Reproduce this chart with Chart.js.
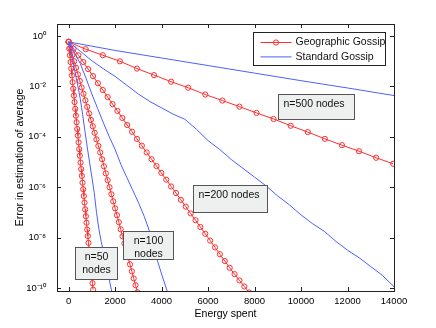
<!DOCTYPE html>
<html lang="en">
<head>
<meta charset="UTF-8">
<title>Geographic vs Standard Gossip</title>
<script src="https://cdn.jsdelivr.net/npm/chart.js"></script>
<style>
  html, body { margin: 0; padding: 0; background: #fff; }
  #wrap { width: 436px; height: 328px; }
</style>
</head>
<body>
<div id="wrap"><canvas id="graf" width="436" height="328"></canvas></div>
<script>
// axis ticks
const xTicks = [0, 2000, 4000, 6000, 8000, 10000, 12000, 14000];
const yTickExps = [0, -2, -4, -6, -8, -10];

const seriesNames = ['Geographic Gossip', 'Standard Gossip'];
const boxTexts = [['n=50', 'nodes'], ['n=100', 'nodes'], ['n=200 nodes'], ['n=500 nodes']];

const geoE50 = [0, 28, 57, 85, 114, 142, 171, 199, 228, 256, 285, 313, 342, 370, 399, 427, 456, 484, 513, 541,
  570, 598, 627, 655, 684, 712, 741, 769, 798, 826, 855, 883, 912, 940, 969, 997, 1026, 1054];
const geoL50 = [-0.23, -0.50, -0.76, -1.03, -1.29, -1.56, -1.83, -2.09, -2.36, -2.62, -2.89, -3.16, -3.42, -3.69,
  -3.95, -4.22, -4.49, -4.75, -5.02, -5.28, -5.55, -5.82, -6.08, -6.35, -6.61, -6.88, -7.15, -7.41, -7.68, -7.94,
  -8.21, -8.48, -8.74, -9.01, -9.27, -9.54, -9.81, -10.07];

const geoE100 = [0, 80, 160, 240, 320, 400, 480, 560, 640, 720, 800, 880, 960, 1040, 1120, 1200, 1280, 1360, 1440,
  1520, 1600, 1680, 1760, 1840, 1920, 2000, 2080, 2160, 2240, 2320, 2400, 2480, 2560, 2640, 2720, 2800, 2880, 2960];
const geoL100 = [-0.23, -0.49, -0.75, -1.00, -1.26, -1.52, -1.78, -2.04, -2.29, -2.55, -2.81, -3.07, -3.33, -3.58,
  -3.84, -4.10, -4.36, -4.62, -4.89, -5.17, -5.45, -5.72, -6.00, -6.28, -6.56, -6.84, -7.11, -7.39, -7.67, -7.95,
  -8.23, -8.50, -8.78, -9.06, -9.34, -9.62, -9.89, -10.17];

const geoE200 = [0, 210, 420, 630, 840, 1050, 1260, 1470, 1680, 1890, 2100, 2310, 2520, 2730, 2940, 3150, 3360,
  3570, 3780, 3990, 4200, 4410, 4620, 4830, 5040, 5250, 5460, 5670, 5880, 6090, 6300, 6510, 6720, 6930, 7140,
  7350, 7560, 7770];
const geoL200 = [-0.23, -0.50, -0.76, -1.03, -1.31, -1.59, -1.87, -2.14, -2.42, -2.70, -2.97, -3.25, -3.53, -3.80,
  -4.08, -4.35, -4.62, -4.89, -5.16, -5.43, -5.70, -5.97, -6.23, -6.50, -6.77, -7.04, -7.31, -7.58, -7.85, -8.12,
  -8.39, -8.66, -8.93, -9.20, -9.45, -9.70, -9.94, -10.18];

const geoE500 = [0, 735, 1470, 2205, 2940, 3675, 4410, 5145, 5880, 6615, 7350, 8085, 8820, 9555, 10290, 11025,
  11760, 12495, 13230, 13965];
const geoL500 = [-0.23, -0.52, -0.76, -1.00, -1.29, -1.55, -1.81, -2.05, -2.32, -2.56, -2.80, -3.05, -3.29, -3.56,
  -3.81, -4.08, -4.33, -4.57, -4.83, -5.07];

// standard gossip
const stdE50 = [0, 100, 200, 300, 400, 500, 600, 700, 800, 900, 1000, 1100, 1200, 1300, 1400, 1500, 1600, 1700, 1850];
const stdL50 = [-0.23, -0.66, -1.09, -1.55, -2.00, -2.48, -3.10, -3.76, -4.40, -5.00, -5.60, -6.20, -7.00, -7.65,
  -8.15, -8.55, -9.00, -9.45, -10.12];

const stdE100 = [0, 250, 500, 750, 1000, 1250, 1500, 1750, 2000, 2250, 2500, 2750, 3000, 3250, 3500, 3750, 4000, 4250];
const stdL100 = [-0.23, -0.65, -1.09, -1.68, -2.30, -2.88, -3.45, -4.00, -4.50, -5.10, -5.60, -6.10, -6.60, -7.15,
  -7.80, -8.70, -9.45, -10.15];

const stdE200 = [0, 500, 1000, 1500, 2000, 2500, 3000, 3500, 4000, 4500, 5000, 5500, 6000, 6500, 7000, 7500, 8000,
  8500, 9000, 9500, 10000, 10500, 11000, 11500, 12000, 12500, 13000, 13500, 14000];
const stdL200 = [-0.23, -0.60, -0.98, -1.30, -1.60, -1.95, -2.30, -2.60, -2.85, -3.10, -3.30, -3.70, -4.15, -4.50,
  -4.90, -5.25, -5.60, -5.95, -6.35, -6.70, -7.10, -7.45, -7.75, -8.15, -8.50, -8.80, -9.15, -9.50, -9.95];

const stdE500 = [0, 2000, 4000, 6000, 8000, 10000, 12000, 14000];
const stdL500 = [-0.23, -0.57, -0.87, -1.17, -1.47, -1.77, -2.06, -2.36];

const RED = 'rgb(255,45,45)';
const BLUE = 'rgb(75,95,255)';
const FONT = '"Liberation Sans", Arial, Helvetica, sans-serif';

function pts(es, ls) {
  return es.map((e, i) => ({ x: e, y: Math.pow(10, ls[i]) }));
}

function geo(es, ls) {
  return {
    label: seriesNames[0], data: pts(es, ls),
    borderColor: RED, borderWidth: 1, pointStyle: 'circle', pointRadius: 2.6,
    pointBorderColor: RED, pointBackgroundColor: 'rgba(0,0,0,0)', pointBorderWidth: 1
  };
}
function std(es, ls) {
  return { label: seriesNames[1], data: pts(es, ls), borderColor: BLUE, borderWidth: 1, pointRadius: 0 };
}

const sup = { '0': '\u2070', '1': '\u00b9', '2': '\u00b2', '4': '\u2074', '6': '\u2076', '8': '\u2078', '-': '\u207b' };

// frame, inward ticks, text boxes and legend, MATLAB style
const framePlugin = {
  id: 'frame',
  afterDraw(chart) {
    const { ctx, chartArea: a, scales: { x, y } } = chart;
    ctx.save();
    ctx.strokeStyle = '#222';
    ctx.lineWidth = 1;
    ctx.beginPath();
    xTicks.forEach(v => {
      const px = Math.round(x.getPixelForValue(v)) + 0.5;
      ctx.moveTo(px, a.bottom); ctx.lineTo(px, a.bottom - 4);
      ctx.moveTo(px, a.top); ctx.lineTo(px, a.top + 4);
    });
    yTickExps.forEach(e => {
      const py = Math.round(y.getPixelForValue(Math.pow(10, e))) + 0.5;
      ctx.moveTo(a.left, py); ctx.lineTo(a.left + 4, py);
      ctx.moveTo(a.right, py); ctx.lineTo(a.right - 4, py);
    });
    ctx.stroke();
    ctx.strokeRect(Math.round(a.left) + 0.5, Math.round(a.top) + 0.5,
      Math.round(a.right - a.left), Math.round(a.bottom - a.top));

    // node count boxes, corners in data coords
    const corners = [[280, 2080, -8.37, -9.64], [2330, 4500, -7.73, -8.86], [5370, 8550, -5.91, -6.98], [9000, 12280, -2.31, -3.29]];
    ctx.font = '10.5px ' + FONT;
    ctx.textBaseline = 'middle';
    boxTexts.forEach((lines, i) => {
      const c = corners[i];
      const x0 = Math.round(x.getPixelForValue(c[0])) + 0.5;
      const x1 = Math.round(x.getPixelForValue(c[1])) + 0.5;
      const y0 = Math.round(y.getPixelForValue(Math.pow(10, c[2]))) + 0.5;
      const y1 = Math.round(y.getPixelForValue(Math.pow(10, c[3]))) + 0.5;
      ctx.fillStyle = '#eef0f0';
      ctx.fillRect(x0, y0, x1 - x0, y1 - y0);
      ctx.strokeStyle = '#555';
      ctx.strokeRect(x0, y0, x1 - x0, y1 - y0);
      ctx.fillStyle = '#111';
      if (lines.length === 1) {
        ctx.textAlign = 'left';
        ctx.fillText(lines[0], x0 + 5, y0 + 10);
      } else {
        ctx.textAlign = 'center';
        lines.forEach((t, k) => ctx.fillText(t, (x0 + x1) / 2, y0 + 10 + k * 12.5));
      }
    });

    // legend
    const lx = Math.round(a.right - 141) + 0.5, ly = Math.round(a.top + 8) + 0.5;
    ctx.fillStyle = '#fff';
    ctx.fillRect(lx, ly, 132, 33);
    ctx.strokeStyle = '#222';
    ctx.strokeRect(lx, ly, 132, 33);
    const rows = [[RED, true], [BLUE, false]];
    rows.forEach((r, k) => {
      const ry = ly + 10 + k * 14.4;
      ctx.strokeStyle = r[0];
      ctx.beginPath(); ctx.moveTo(lx + 7, ry); ctx.lineTo(lx + 38, ry); ctx.stroke();
      if (r[1]) { ctx.beginPath(); ctx.arc(lx + 22.5, ry, 2.6, 0, Math.PI * 2); ctx.stroke(); }
      ctx.fillStyle = '#111';
      ctx.textAlign = 'left';
      ctx.fillText(seriesNames[k], lx + 42, ry);
    });
    ctx.restore();
  }
};

new Chart(document.getElementById('graf'), {
  type: 'line',
  data: {
    datasets: [
      std(stdE50, stdL50), std(stdE100, stdL100), std(stdE200, stdL200), std(stdE500, stdL500),
      geo(geoE50, geoL50), geo(geoE100, geoL100), geo(geoE200, geoL200), geo(geoE500, geoL500)
    ]
  },
  options: {
    responsive: false,
    animation: false,
    devicePixelRatio: 1,
    layout: { padding: { top: 24, right: 42, left: 0, bottom: 0 } },
    plugins: { legend: { display: false }, tooltip: { enabled: false } },
    elements: { line: { tension: 0 } },
    scales: {
      x: {
        type: 'linear', min: -500, max: 14000,
        afterBuildTicks: s => { s.ticks = xTicks.map(v => ({ value: v })); },
        afterFit: s => { s.height = 37; },
        grid: { display: false, drawTicks: false },
        border: { display: false },
        ticks: {
          color: '#000', font: { size: 9.5, family: FONT }, padding: 5, maxRotation: 0, autoSkip: false,
          callback: v => String(v)
        },
        title: { display: true, text: 'Energy spent', color: '#000', font: { size: 10.5, family: FONT }, padding: { top: 0, bottom: 8 } }
      },
      y: {
        type: 'logarithmic', min: Math.pow(10, -10.12), max: Math.pow(10, 0.48),
        afterBuildTicks: s => { s.ticks = yTickExps.map(e => ({ value: Math.pow(10, e) })); },
        afterFit: s => { s.width = 57; },
        grid: { display: false, drawTicks: false },
        border: { display: false },
        ticks: {
          color: '#000', font: { size: 9.5, family: FONT }, padding: 11, autoSkip: false,
          callback: v => '10' + String(Math.round(Math.log10(v))).split('').map(c => sup[c]).join('')
        },
        title: { display: true, text: 'Error in estimation of average', color: '#000', font: { size: 10.5, family: FONT }, padding: { top: 14, bottom: 0 } }
      }
    }
  },
  plugins: [framePlugin]
});
</script>
</body>
</html>
